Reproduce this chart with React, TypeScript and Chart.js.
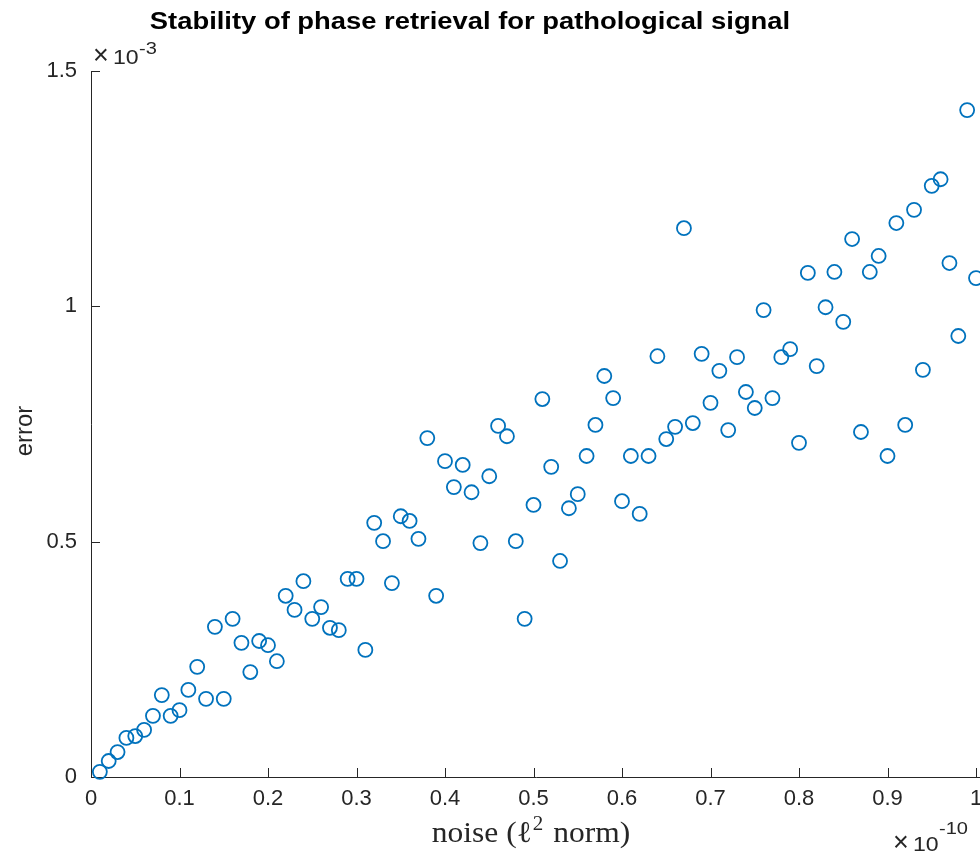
import React, { useEffect, useRef } from "react";
import { Chart, registerables } from "chart.js";

Chart.register(...registerables);

// noise level (x, in units of 1e-10)
const noise = [
  0.01, 0.02, 0.03, 0.04, 0.05, 0.06, 0.07, 0.08, 0.09, 0.1,
  0.11, 0.12, 0.13, 0.14, 0.15, 0.16, 0.17, 0.18, 0.19, 0.2,
  0.21, 0.22, 0.23, 0.24, 0.25, 0.26, 0.27, 0.28, 0.29, 0.3,
  0.31, 0.32, 0.33, 0.34, 0.35, 0.36, 0.37, 0.38, 0.39, 0.4,
  0.41, 0.42, 0.43, 0.44, 0.45, 0.46, 0.47, 0.48, 0.49, 0.5,
  0.51, 0.52, 0.53, 0.54, 0.55, 0.56, 0.57, 0.58, 0.59, 0.6,
  0.61, 0.62, 0.63, 0.64, 0.65, 0.66, 0.67, 0.68, 0.69, 0.7,
  0.71, 0.72, 0.73, 0.74, 0.75, 0.76, 0.77, 0.78, 0.79, 0.8,
  0.81, 0.82, 0.83, 0.84, 0.85, 0.86, 0.87, 0.88, 0.89, 0.9,
  0.91, 0.92, 0.93, 0.94, 0.95, 0.96, 0.97, 0.98, 0.99, 1.0,
];

// reconstruction error (y, in units of 1e-3)
const errorValues = [
  0.011, 0.034, 0.053, 0.083, 0.087, 0.1, 0.13, 0.174, 0.13, 0.142,
  0.185, 0.234, 0.166, 0.319, 0.166, 0.336, 0.285, 0.223, 0.289, 0.28,
  0.246, 0.385, 0.355, 0.416, 0.336, 0.361, 0.317, 0.312, 0.421, 0.421,
  0.27, 0.54, 0.501, 0.412, 0.554, 0.544, 0.506, 0.72, 0.385, 0.671,
  0.616, 0.663, 0.605, 0.497, 0.639, 0.746, 0.724, 0.501, 0.336, 0.578,
  0.803, 0.659, 0.459, 0.571, 0.601, 0.682, 0.748, 0.852, 0.805, 0.586,
  0.682, 0.559, 0.682, 0.894, 0.718, 0.744, 1.166, 0.752, 0.899, 0.795,
  0.863, 0.737, 0.892, 0.818, 0.784, 0.992, 0.805, 0.892, 0.909, 0.71,
  1.071, 0.873, 0.998, 1.073, 0.967, 1.143, 0.733, 1.073, 1.107, 0.682,
  1.177, 0.748, 1.205, 0.865, 1.256, 1.27, 1.092, 0.937, 1.417, 1.06,
];

const xTicks = [0, 0.1, 0.2, 0.3, 0.4, 0.5, 0.6, 0.7, 0.8, 0.9, 1];
const yTicks = [0, 0.5, 1, 1.5];

const TITLE = "Stability of phase retrieval for pathological signal";
const Y_LABEL = "error";
const X_LABEL_PRE = "noise (\u2113";
const X_LABEL_SUP = "2";
const X_LABEL_POST = " norm)";
const X_EXP = "-10";
const Y_EXP = "-3";

const AXIS_COLOR = "#262626";
const MARKER_COLOR = "#0072BD";
const SANS = "'Liberation Sans', Arial, Helvetica, sans-serif";
const SERIF = "'Liberation Serif', 'Times New Roman', serif";

const fmt = (v: number) => String(Number(v.toFixed(2)));

const decorPlugin = {
  id: "decor",
  beforeDatasetsDraw(chart: any) {
    const { ctx, chartArea } = chart;
    const xs = chart.scales.x;
    const ys = chart.scales.y;
    ctx.save();
    ctx.strokeStyle = AXIS_COLOR;
    ctx.lineWidth = 1;
    ctx.beginPath();
    // axis lines
    ctx.moveTo(chartArea.left + 0.5, chartArea.top);
    ctx.lineTo(chartArea.left + 0.5, chartArea.bottom + 0.5);
    ctx.lineTo(chartArea.right + 10, chartArea.bottom + 0.5);
    // inward ticks
    xTicks.forEach((v) => {
      const px = Math.round(xs.getPixelForValue(v)) + 0.5;
      ctx.moveTo(px, chartArea.bottom);
      ctx.lineTo(px, chartArea.bottom - 9);
    });
    yTicks.forEach((v) => {
      const py = Math.round(ys.getPixelForValue(v)) + 0.5;
      ctx.moveTo(chartArea.left, py);
      ctx.lineTo(chartArea.left + 9, py);
    });
    ctx.stroke();
    ctx.restore();
  },
  afterDraw(chart: any) {
    const { ctx } = chart;
    ctx.save();
    // title
    ctx.fillStyle = "#000";
    ctx.font = `bold 23px ${SANS}`;
    ctx.textAlign = "center";
    ctx.textBaseline = "alphabetic";
    ctx.save();
    ctx.translate(470, 29);
    ctx.scale(1.19, 1);
    ctx.fillText(TITLE, 0, 0);
    ctx.restore();

    // y label
    ctx.fillStyle = AXIS_COLOR;
    ctx.font = `24px ${SANS}`;
    ctx.save();
    ctx.translate(32, 431);
    ctx.rotate(-Math.PI / 2);
    ctx.textAlign = "center";
    ctx.fillText(Y_LABEL, 0, 0);
    ctx.restore();

    // x label (serif, with superscript)
    ctx.textAlign = "left";
    const mainFont = `30px ${SERIF}`;
    const supFont = `20px ${SERIF}`;
    ctx.font = mainFont;
    const w1 = ctx.measureText(X_LABEL_PRE).width;
    const w3 = ctx.measureText(X_LABEL_POST).width;
    ctx.font = supFont;
    const w2 = ctx.measureText(X_LABEL_SUP).width + 3;
    const sx = 1.05;
    const total = (w1 + w2 + w3) * sx;
    const cx = 531;
    ctx.save();
    ctx.translate(cx - total / 2, 842);
    ctx.scale(sx, 1);
    ctx.font = mainFont;
    ctx.fillText(X_LABEL_PRE, 0, 0);
    ctx.font = supFont;
    ctx.fillText(X_LABEL_SUP, w1 + 1, -12);
    ctx.font = mainFont;
    ctx.fillText(X_LABEL_POST, w1 + w2, 0);
    ctx.restore();

    // exponent labels
    const drawExp = (x: number, base: number, supBase: number, sup: string) => {
      ctx.fillStyle = AXIS_COLOR;
      ctx.textAlign = "left";
      ctx.save();
      ctx.translate(x - 2, base);
      ctx.font = `200 27px ${SANS}`;
      ctx.fillText("\u00D7", 0, 0);
      ctx.restore();
      ctx.save();
      ctx.translate(x + 18, base);
      ctx.scale(1.1, 1);
      ctx.font = `21px ${SANS}`;
      ctx.fillText("10", 0, 0);
      ctx.restore();
      ctx.save();
      ctx.translate(x + 44, supBase);
      ctx.scale(1.18, 1);
      ctx.font = `17px ${SANS}`;
      ctx.fillText(sup, 0, 0);
      ctx.restore();
    };
    drawExp(95, 64, 54, Y_EXP);
    drawExp(895, 851, 834, X_EXP);
    ctx.restore();
  },
};

export default function App() {
  const canvasRef = useRef<HTMLCanvasElement | null>(null);

  useEffect(() => {
    const canvas = canvasRef.current;
    if (!canvas) return;
    const points = noise.map((x, i) => ({ x, y: errorValues[i] }));
    const tickFont = { family: SANS, size: 22 };
    const chart = new Chart(canvas, {
      type: "scatter",
      data: {
        datasets: [
          {
            label: "error",
            data: points,
            pointStyle: "circle",
            pointRadius: 7,
            pointHoverRadius: 7,
            pointBorderWidth: 1.8,
            pointBackgroundColor: "rgba(0,0,0,0)",
            pointBorderColor: MARKER_COLOR,
            showLine: false,
            clip: false as any,
          },
        ],
      },
      plugins: [decorPlugin],
      options: {
        animation: false,
        responsive: false,
        devicePixelRatio: 1,
        layout: {
          autoPadding: false,
          padding: { left: 0, right: 4, top: 71, bottom: 0 },
        },
        plugins: {
          legend: { display: false },
          title: { display: false },
          tooltip: { enabled: false },
        },
        events: [],
        scales: {
          x: {
            type: "linear",
            min: 0,
            max: 1,
            afterBuildTicks: (s: any) => {
              s.ticks = xTicks.map((v) => ({ value: v }));
            },
            afterFit: (s: any) => {
              s.height = 78;
              s.paddingLeft = 0;
              s.paddingRight = 0;
            },
            border: { display: false },
            grid: { display: false, drawTicks: false },
            ticks: {
              font: tickFont,
              color: AXIS_COLOR,
              padding: 9,
              maxRotation: 0,
              autoSkip: false,
              callback: (v: any) => fmt(Number(v)),
            },
          },
          y: {
            type: "linear",
            min: 0,
            max: 1.5,
            afterBuildTicks: (s: any) => {
              s.ticks = yTicks.map((v) => ({ value: v }));
            },
            afterFit: (s: any) => {
              s.width = 91;
              s.paddingTop = 0;
              s.paddingBottom = 0;
            },
            border: { display: false },
            grid: { display: false, drawTicks: false },
            ticks: {
              font: tickFont,
              color: AXIS_COLOR,
              padding: 14,
              autoSkip: false,
              callback: (v: any) => fmt(Number(v)),
            },
          },
        },
      },
    });
    return () => chart.destroy();
  }, []);

  return (
    <div
      style={{
        position: "fixed",
        left: 0,
        top: 0,
        width: 980,
        height: 855,
        background: "#fff",
      }}
    >
      <canvas ref={canvasRef} width={980} height={855} style={{ display: "block" }} />
    </div>
  );
}
